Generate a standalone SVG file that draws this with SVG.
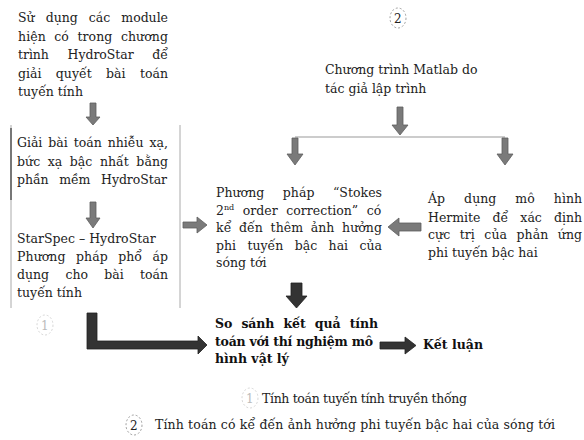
<svg xmlns="http://www.w3.org/2000/svg" width="584" height="440" viewBox="0 0 584 440">
<style>
text{font-family:"DejaVu Serif","Liberation Serif",serif;font-size:12.5px;fill:#222}
.b{font-weight:bold;fill:#111}
.ga{fill:#7a7a7a;stroke:#5e5e5e;stroke-width:0.8}
.da{fill:#333;stroke:#222;stroke-width:0.8}
.dc{fill:none;stroke:#888;stroke-width:0.8;stroke-dasharray:2 2}
.lc{fill:none;stroke:#ccc;stroke-width:0.8;stroke-dasharray:2 2}
</style>
<g id="n1">
<text x="18" y="22" word-spacing="7.2" textLength="150">Sử dụng các module</text>
<text x="18" y="40.5" word-spacing="4.4" textLength="150">hiện có trong chương</text>
<text x="18" y="59" word-spacing="14.8" textLength="150">trình HydroStar để</text>
<text x="18" y="77.5" word-spacing="10.5" textLength="150">giải quyết bài toán</text>
<text x="18" y="96">tuyến tính</text>
</g>
<g id="box">
<line x1="11" y1="125" x2="11" y2="308" stroke="#aaa" stroke-width="1"/>
<line x1="11" y1="128" x2="11" y2="200" stroke="#777" stroke-width="2"/>
<line x1="180" y1="125" x2="180" y2="308" stroke="#aaa" stroke-width="1"/>
</g>
<g id="n2">
<text x="17" y="147" word-spacing="2.1" textLength="151">Giải bài toán nhiễu xạ,</text>
<text x="17" y="166" word-spacing="3.5" textLength="151">bức xạ bậc nhất bằng</text>
<text x="17" y="184" word-spacing="6.8" textLength="150">phần mềm HydroStar</text>
</g>
<g id="n3">
<text x="17" y="243">StarSpec – HydroStar</text>
<text x="17" y="261" word-spacing="6.3" textLength="151">Phương pháp phổ áp</text>
<text x="17" y="279" word-spacing="12.3" textLength="151">dụng cho bài toán</text>
<text x="17" y="297">tuyến tính</text>
</g>
<g id="n4">
<text x="325" y="74">Chương trình Matlab do</text>
<text x="325" y="93">tác giả lập trình</text>
</g>
<g id="n5">
<text x="216" y="197" word-spacing="14.5" textLength="166">Phương pháp “Stokes</text>
<text x="216" y="215" word-spacing="4.6">2<tspan font-size="8" dy="-5">nd</tspan><tspan dy="5"> order correction” có</tspan></text>
<text x="216" y="232" word-spacing="3.6" textLength="166">kể đến thêm ảnh hưởng</text>
<text x="216" y="250" word-spacing="7.5" textLength="166">phi tuyến bậc hai của</text>
<text x="216" y="267">sóng tới</text>
</g>
<g id="n6">
<text x="428" y="203" word-spacing="15.1" textLength="154">Áp dụng mô hình</text>
<text x="428" y="222" word-spacing="8.1" textLength="154">Hermite để xác định</text>
<text x="428" y="239" word-spacing="5.5" textLength="154">cực trị của phản ứng</text>
<text x="428" y="257">phi tuyến bậc hai</text>
</g>
<g id="n7">
<text class="b" x="215" y="328" word-spacing="5" textLength="163">So sánh kết quả tính</text>
<text class="b" x="215" y="346" textLength="158">toán với thí nghiệm mô</text>
<text class="b" x="215" y="363">hình vật lý</text>
</g>
<g id="n8">
<text class="b" x="423" y="349">Kết luận</text>
</g>
<g id="labels">
<ellipse class="lc" cx="45" cy="325" rx="8" ry="10"/>
<text x="41" y="330" style="fill:#bbb;font-size:12px">1</text>
<ellipse class="dc" cx="398" cy="18" rx="8" ry="10"/>
<text x="394" y="23" style="font-size:12px">2</text>
</g>
<g id="legend">
<ellipse class="lc" cx="250" cy="398" rx="8" ry="10"/>
<text x="246" y="403" style="fill:#bbb;font-size:12px">1</text>
<text x="262" y="403" textLength="205">Tính toán tuyến tính truyền thống</text>
<ellipse class="dc" cx="134" cy="425" rx="8" ry="10"/>
<text x="130" y="430" style="font-size:12px">2</text>
<text x="155" y="429" textLength="400">Tính toán có kể đến ảnh hưởng phi tuyến bậc hai của sóng tới</text>
</g>
<g id="connectors">
<polygon class="ga" points="90,103 96,103 96,117 100,117 93,125 86,117 90,117"/>
<polygon class="ga" points="90,202 96,202 96,218 100,218 93,228 86,218 90,218"/>
<polygon class="ga" points="397,107 403,107 403,125 408,125 400,135 392,125 397,125"/>
<line x1="295" y1="137" x2="505" y2="137" stroke="#999" stroke-width="1"/>
<polygon class="ga" points="292,138 298,138 298,154 303,154 295,165 287,154 292,154"/>
<polygon class="ga" points="502,138 508,138 508,154 513,154 505,165 497,154 502,154"/>
<polygon class="ga" points="183,222 197,222 197,217 207,225 197,233 197,228 183,228"/>
<polygon class="ga" points="421,223 399,223 399,218 388,227 399,236 399,231 421,231"/>
<polygon class="da" points="291,283 302,283 302,296 307,296 296.5,308 286,296 291,296"/>
<polygon class="da" points="87,313 97,313 97,341 198,341 198,336 207,345 198,354 198,349 87,349"/>
<polygon class="da" points="380,342 405,342 405,337 416,345.5 405,354 405,349 380,349"/>
</g>
</svg>
